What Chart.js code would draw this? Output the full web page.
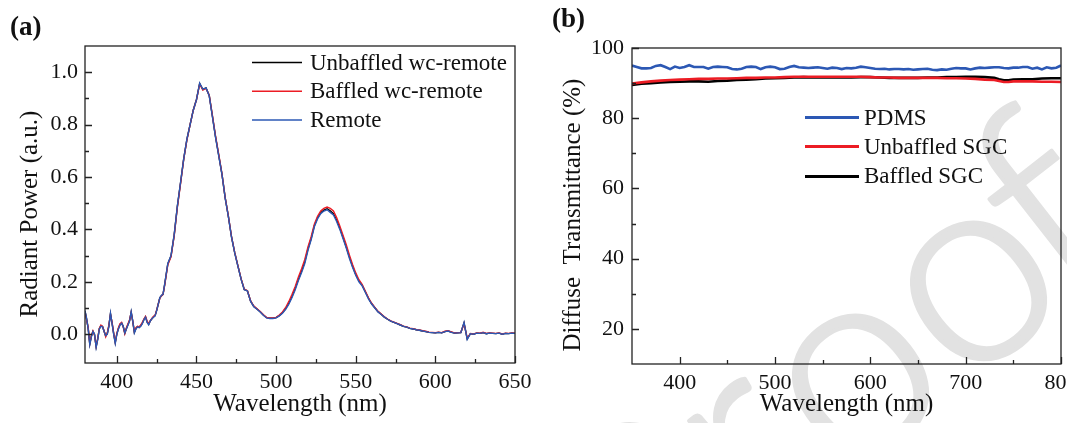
<!DOCTYPE html>
<html><head><meta charset="utf-8">
<script src="https://cdn.jsdelivr.net/npm/chart.js@4/dist/chart.umd.min.js"></script>
<style>
html,body{margin:0;padding:0;background:#fff;width:1067px;height:423px;overflow:hidden;}
#wa{position:absolute;left:0;top:0;width:545px;height:423px;}
#wb{position:absolute;left:530px;top:0;width:537px;height:423px;}
canvas{display:block;}
</style></head><body>
<div id="wa"><canvas id="ca" width="545" height="423"></canvas></div>
<div id="wb"><canvas id="cb" width="537" height="423"></canvas></div>
<script>
// ---------- Panel (a) data ----------
const wavelengthA = [380,381,382,383,384,385,386,387,388,389,390,391,392,393,394,395,396,397,398,399,400,401,402,403,404,405,406,407,408,409,410,411,412,413,414,415,416,417,418,419,420,421,422,423,424,425,426,427,428,429,430,
432,434,436,438,440,442,444,446,448,450,452,454,456,458,460,462,464,466,468,470,472,474,476,478,480,482,484,486,488,490,492,494,496,498,500,502,504,506,508,510,512,514,516,518,520,522,524,526,528,530,532,534,536,538,540,542,544,546,548,550,552,554,556,558,560,562,564,566,568,570,572,574,576,578,580,582,584,586,588,590,592,594,596,598,600,602,604,606,608,610,612,614,616,618,620,622,624,626,628,630,632,634,636,638,640,642,644,646,648,650];
const unbaffledWc = [0.088,0.058,0.022,-0.038,-0.008,0.011,-0.002,-0.048,-0.018,0.021,0.032,0.029,0.011,-0.007,0.002,0.032,0.078,0.042,0.002,-0.032,0.001,0.022,0.037,0.043,0.029,0.004,0.022,0.037,0.052,0.084,0.049,0.007,0.022,0.029,0.026,0.032,0.042,0.056,0.066,0.047,0.038,0.051,0.059,0.066,0.071,0.091,0.115,0.139,0.147,0.152,0.188,
0.268,0.298,0.378,0.488,0.578,0.67,0.744,0.80,0.856,0.896,0.957,0.934,0.94,0.911,0.832,0.752,0.682,0.611,0.521,0.451,0.371,0.311,0.261,0.211,0.171,0.165,0.126,0.106,0.096,0.086,0.073,0.063,0.061,0.061,0.063,0.071,0.082,0.098,0.119,0.145,0.175,0.21,0.241,0.276,0.325,0.365,0.414,0.444,0.464,0.474,0.479,0.471,0.46,0.436,0.405,0.37,0.334,0.295,0.259,0.228,0.203,0.187,0.162,0.137,0.116,0.101,0.086,0.076,0.065,0.057,0.05,0.045,0.04,0.035,0.03,0.027,0.022,0.02,0.017,0.015,0.012,0.01,0.007,0.006,0.005,0.007,0.005,0.01,0.012,0.008,0.004,0.005,0.006,0.043,-0.018,0.002,0.0,0.004,0.003,0.006,0.002,0.004,0.003,0.002,0.004,0.0,0.003,0.002,0.004,0.003];
const baffledWc = [0.085,0.055,0.025,-0.035,-0.005,0.012,-0.005,-0.045,-0.015,0.022,0.035,0.03,0.012,-0.01,0.005,0.035,0.075,0.045,0.005,-0.03,0.003,0.025,0.04,0.045,0.028,0.002,0.025,0.04,0.055,0.082,0.048,0.01,0.025,0.03,0.028,0.035,0.045,0.058,0.068,0.05,0.04,0.052,0.06,0.068,0.072,0.092,0.115,0.138,0.146,0.152,0.185,
0.265,0.295,0.375,0.485,0.575,0.668,0.742,0.80,0.855,0.895,0.955,0.932,0.938,0.912,0.835,0.755,0.685,0.612,0.522,0.452,0.372,0.312,0.262,0.212,0.172,0.166,0.127,0.107,0.097,0.087,0.074,0.064,0.062,0.062,0.064,0.073,0.085,0.102,0.125,0.152,0.182,0.218,0.25,0.285,0.333,0.372,0.42,0.45,0.47,0.48,0.485,0.48,0.47,0.445,0.413,0.378,0.342,0.302,0.266,0.234,0.208,0.19,0.165,0.139,0.118,0.102,0.087,0.077,0.066,0.058,0.051,0.046,0.041,0.036,0.031,0.028,0.023,0.021,0.018,0.016,0.013,0.011,0.008,0.007,0.006,0.008,0.006,0.011,0.013,0.009,0.005,0.006,0.007,0.04,-0.015,0.003,0.001,0.005,0.004,0.007,0.003,0.005,0.004,0.003,0.005,0.001,0.004,0.003,0.005,0.004];
const remote = [0.09,0.06,0.02,-0.04,-0.01,0.01,0.0,-0.05,-0.02,0.02,0.03,0.028,0.01,-0.005,0.0,0.03,0.08,0.04,0.0,-0.035,0.0,0.02,0.035,0.042,0.03,0.005,0.02,0.035,0.05,0.086,0.05,0.005,0.02,0.028,0.025,0.03,0.04,0.055,0.065,0.045,0.036,0.05,0.059,0.065,0.07,0.09,0.115,0.14,0.148,0.153,0.19,
0.27,0.30,0.38,0.49,0.58,0.67,0.745,0.80,0.855,0.895,0.958,0.935,0.94,0.91,0.83,0.75,0.68,0.61,0.52,0.45,0.37,0.31,0.26,0.21,0.17,0.165,0.125,0.105,0.095,0.085,0.072,0.062,0.06,0.06,0.062,0.07,0.08,0.095,0.115,0.14,0.17,0.205,0.235,0.27,0.32,0.36,0.41,0.44,0.46,0.47,0.475,0.465,0.455,0.43,0.40,0.365,0.33,0.29,0.255,0.225,0.20,0.185,0.16,0.135,0.115,0.10,0.085,0.075,0.065,0.057,0.05,0.045,0.04,0.035,0.03,0.027,0.022,0.02,0.017,0.015,0.012,0.01,0.007,0.006,0.005,0.007,0.005,0.01,0.012,0.007,0.004,0.005,0.006,0.045,-0.02,0.002,0.0,0.004,0.003,0.006,0.002,0.004,0.003,0.002,0.004,0.0,0.003,0.002,0.004,0.003];
const xTicksA = [400,450,500,550,600,650];
const xMinorA = [425,475,525,575,625];
const yTicksA = [0,0.2,0.4,0.6,0.8,1.0];
const yMinorA = [0.1,0.3,0.5,0.7,0.9];
const labelsA = ['Unbaffled wc-remote','Baffled wc-remote','Remote'];

// ---------- Panel (b) data ----------
const wavelengthPDMS = [350,355,360,365,370,375,380,385,390,395,400,405,410,415,420,425,430,435,440,445,450,455,460,465,470,475,480,485,490,495,500,505,510,515,520,525,530,535,540,545,550,555,560,565,570,575,580,585,590,595,600,605,610,615,620,625,630,635,640,645,650,655,660,665,670,675,680,685,690,695,700,705,710,715,720,725,730,735,740,745,750,755,760,765,770,775,780,785,790,795,800];
const pdms = [95.0,94.6,94.2,94.2,94.3,94.9,95.1,94.6,94.0,94.7,94.3,94.6,95.1,94.6,94.6,94.6,94.1,94.6,94.7,94.6,94.5,94.0,93.9,94.1,94.6,94.7,94.6,94.0,94.5,94.7,94.5,94.0,94.1,94.6,94.9,94.5,94.4,94.3,94.4,94.5,94.3,94.1,94.4,94.3,94.0,94.3,94.2,94.4,94.7,94.5,94.3,94.1,94.0,94.1,93.9,94.0,94.0,93.9,94.0,93.8,93.9,94.0,94.1,93.8,93.7,93.9,93.8,94.1,94.3,94.2,94.2,93.9,94.2,94.4,94.3,94.4,94.5,94.5,94.3,94.2,94.4,94.4,94.6,94.6,94.1,94.4,93.9,94.5,94.2,94.4,95.0];
const wavelengthSGC = [350,360,370,380,390,400,410,420,430,440,450,460,470,480,490,500,510,520,530,540,550,560,570,580,590,600,610,620,630,640,650,660,670,680,690,700,710,720,730,735,740,745,750,760,770,780,790,800];
const unbaffledSGC = [89.9,90.2,90.5,90.7,90.9,91.0,91.1,91.2,91.2,91.3,91.3,91.4,91.5,91.5,91.6,91.6,91.7,91.8,91.8,91.8,91.8,91.8,91.8,91.8,91.8,91.7,91.6,91.6,91.5,91.5,91.5,91.5,91.5,91.4,91.4,91.3,91.2,91.0,90.9,90.6,90.3,90.3,90.5,90.5,90.5,90.4,90.4,90.3];
const baffledSGC = [89.5,89.8,90.0,90.2,90.3,90.4,90.5,90.5,90.4,90.6,90.7,90.9,91.0,91.1,91.3,91.4,91.5,91.6,91.7,91.6,91.6,91.6,91.6,91.6,91.7,91.7,91.6,91.5,91.5,91.5,91.5,91.6,91.6,91.7,91.7,91.8,91.8,91.7,91.5,91.1,90.8,90.8,91.0,91.1,91.1,91.3,91.4,91.4];
const xTicksB = [400,500,600,700,800];
const xMinorB = [450,550,650,750];
const yTicksB = [20,40,60,80,100];
const yMinorB = [30,50,70,90];
const labelsB = ['PDMS','Unbaffled SGC','Baffled SGC'];
const watermarkText = 'Proofs';

// ---------- helpers ----------
const FONT = 'Liberation Serif';
const TXT = '#111111';
const BLUE = '#2c58b4', RED = '#ec1c24', BLACK = '#000000';
const pts = (xs, ys) => xs.map((x, i) => ({x, y: ys[i]}));

const frameTicks = {
  id: 'frameTicks',
  afterDatasetsDraw(chart, args, o) {
    const {ctx, chartArea: a, scales: {x, y}} = chart;
    ctx.save();
    ctx.strokeStyle = '#222'; ctx.lineWidth = 1.3;
    ctx.strokeRect(a.left, a.top, a.right - a.left, a.bottom - a.top);
    ctx.beginPath();
    const xt = (vals, len) => vals.forEach(v => { const p = Math.round(x.getPixelForValue(v)) + 0.5; ctx.moveTo(p, a.bottom); ctx.lineTo(p, a.bottom - len); });
    const yt = (vals, len) => vals.forEach(v => { const p = Math.round(y.getPixelForValue(v)) + 0.5; ctx.moveTo(a.left, p); ctx.lineTo(a.left + len, p); });
    xt(o.xMajor, 7); xt(o.xMinor, 4); yt(o.yMajor, 7); yt(o.yMinor, 4);
    ctx.stroke();
    ctx.restore();
  }
};
const inLegend = {
  id: 'inLegend',
  afterDraw(chart, args, o) {
    const ctx = chart.ctx;
    ctx.save();
    ctx.font = o.size + 'px "' + FONT + '"';
    ctx.textBaseline = 'middle'; ctx.textAlign = 'left';
    o.order.forEach((di, r) => {
      const ds = chart.data.datasets[di];
      const yy = o.ys[r];
      ctx.strokeStyle = ds.borderColor; ctx.lineWidth = o.lw;
      ctx.beginPath(); ctx.moveTo(o.x1, yy); ctx.lineTo(o.x2, yy); ctx.stroke();
      ctx.fillStyle = TXT; ctx.fillText(ds.label, o.xt, yy + 1);
    });
    ctx.restore();
  }
};
const decor = {
  id: 'decor',
  beforeDraw(chart, args, o) {
    const ctx = chart.ctx;
    ctx.save();
    if (o.wm) {
      ctx.fillStyle = '#e2e2e2'; ctx.strokeStyle = '#e2e2e2'; ctx.lineWidth = 4; ctx.lineJoin = 'round';
      ctx.font = '300 ' + o.wm.size + 'px Lato, "Liberation Sans", sans-serif';
      ctx.textBaseline = 'alphabetic'; ctx.textAlign = 'center';
      o.wm.text.split('').forEach((ch, i) => {
        const p = o.wm.pos[i];
        ctx.setTransform(1, 0, 0, 1, p[0], p[1]);
        ctx.rotate(o.wm.angle * Math.PI / 180);
        ctx.fillText(ch, 0, 0);
        ctx.strokeText(ch, 0, 0);
      });
      ctx.setTransform(1, 0, 0, 1, 0, 0);
    }
    ctx.font = 'bold 27px "' + FONT + '"';
    ctx.fillStyle = TXT; ctx.textBaseline = 'alphabetic'; ctx.textAlign = 'left';
    ctx.fillText(o.text, o.x, o.y);
    ctx.font = '25px "' + FONT + '"';
    ctx.textBaseline = 'middle'; ctx.textAlign = 'center';
    ctx.translate(o.yt.x, o.yt.y);
    ctx.rotate(-Math.PI / 2);
    ctx.fillText(o.yt.text, 0, 0);
    ctx.restore();
  }
};

function xScale(min, max, ticks, h) {
  return {
    type: 'linear', min, max,
    afterBuildTicks: s => { s.ticks = ticks.map(v => ({value: v})); },
    afterFit: s => { s.height = h; s.paddingLeft = 0; s.paddingRight = 0; },
    grid: {display: false, drawTicks: false}, border: {display: false},
    ticks: {font: {family: FONT, size: 22}, color: TXT, padding: 6, maxRotation: 0, autoSkip: false, callback: v => String(v)},
    title: {display: true, text: 'Wavelength (nm)', font: {family: FONT, size: 25}, color: TXT, padding: {top: 0, bottom: 4}}
  };
}
function yScale(min, max, ticks, w, fmt, lpad) {
  return {
    type: 'linear', min, max,
    afterBuildTicks: s => { s.ticks = ticks.map(v => ({value: v})); },
    afterFit: s => { s.width = w; s.paddingTop = 0; s.paddingBottom = 0; },
    grid: {display: false, drawTicks: false}, border: {display: false},
    ticks: {font: {family: FONT, size: 22}, color: TXT, padding: lpad, autoSkip: false, callback: fmt},
    title: {display: false}
  };
}

Chart.defaults.animation = false;

new Chart(document.getElementById('ca'), {
  type: 'line',
  data: {datasets: [
    {label: labelsA[0], data: pts(wavelengthA, unbaffledWc), borderColor: BLACK, borderWidth: 1.4, pointRadius: 0, tension: 0, order: 2},
    {label: labelsA[1], data: pts(wavelengthA, baffledWc), borderColor: RED, borderWidth: 1.4, pointRadius: 0, tension: 0, order: 1},
    {label: labelsA[2], data: pts(wavelengthA, remote), borderColor: BLUE, borderWidth: 1.4, pointRadius: 0, tension: 0, order: 0}
  ]},
  options: {
    responsive: false, animation: false, devicePixelRatio: 1,
    layout: {padding: {left: 0, right: 30, top: 46, bottom: 0}},
    scales: {
      x: xScale(380, 650, xTicksA, 60),
      y: yScale(-0.11, 1.1, yTicksA, 85, v => Number(v).toFixed(1), 7)
    },
    plugins: {
      legend: {display: false}, tooltip: {enabled: false},
      frameTicks: {xMajor: xTicksA, xMinor: xMinorA, yMajor: yTicksA, yMinor: yMinorA},
      inLegend: {order: [0, 1, 2], ys: [62.5, 91.3, 120], x1: 252, x2: 302, xt: 310, size: 23, lw: 1.4},
      decor: {text: '(a)', x: 10, y: 35, yt: {text: 'Radiant Power (a.u.)', x: 30, y: 214}}
    }
  },
  plugins: [frameTicks, inLegend, decor]
});

new Chart(document.getElementById('cb'), {
  type: 'line',
  data: {datasets: [
    {label: labelsB[2], data: pts(wavelengthSGC, baffledSGC), borderColor: BLACK, borderWidth: 2.6, pointRadius: 0, tension: 0, order: 2},
    {label: labelsB[1], data: pts(wavelengthSGC, unbaffledSGC), borderColor: RED, borderWidth: 2.6, pointRadius: 0, tension: 0, order: 1},
    {label: labelsB[0], data: pts(wavelengthPDMS, pdms), borderColor: BLUE, borderWidth: 2.6, pointRadius: 0, tension: 0, order: 0}
  ]},
  options: {
    responsive: false, animation: false, devicePixelRatio: 1,
    layout: {padding: {left: 0, right: 6, top: 48, bottom: 0}},
    scales: {
      x: xScale(350, 800, xTicksB, 59),
      y: yScale(10, 100, yTicksB, 102, v => String(v), 8)
    },
    plugins: {
      legend: {display: false}, tooltip: {enabled: false},
      frameTicks: {xMajor: xTicksB, xMinor: xMinorB, yMajor: yTicksB, yMinor: yMinorB},
      inLegend: {order: [2, 1, 0], ys: [117.5, 146.6, 176.4], x1: 275, x2: 329, xt: 334, size: 23, lw: 3},
      decor: {text: '(b)', x: 22, y: 27, yt: {text: 'Diffuse  Transmittance (%)', x: 43, y: 215},
              wm: {text: watermarkText, size: 270, angle: -38,
                   pos: [[171, 594], [262, 511], [372, 437], [490, 344], [570, 278], [662, 209]]}}
    }
  },
  plugins: [frameTicks, inLegend, decor]
});
</script>
</body></html>
